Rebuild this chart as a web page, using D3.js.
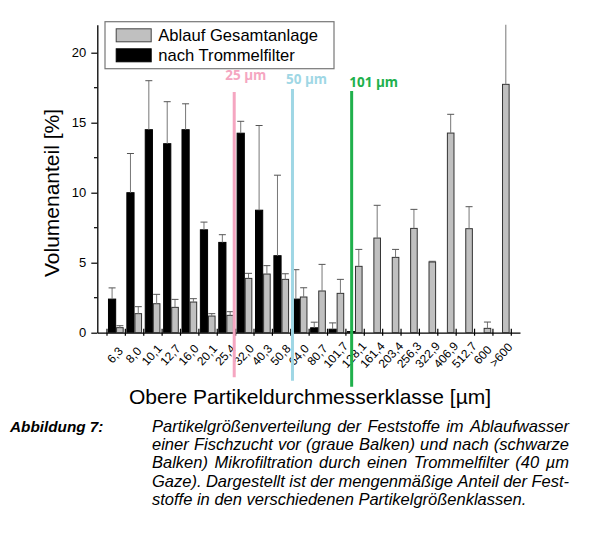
<!DOCTYPE html>
<html lang="de">
<head>
    <meta charset="utf-8">
    <title>Partikelgrößenverteilung</title>
    <script type="text/javascript" src="https://cdn.jsdelivr.net/npm/d3@7"></script>
    <style>
        body { margin: 0; background: #fff; }
        svg { display: block; font-family: "Liberation Sans", Arial, sans-serif; }
    </style>
</head>
<body>
<script type="text/javascript">
    // upper class limits [µm]
    var categories = ["6,3", "8,0", "10,1", "12,7", "16,0", "20,1", "25,4", "32,0", "40,3", "50,8", "64,0",
        "80,7", "101,7", "128,1", "161,4", "203,4", "256,3", "322,9", "406,9", "512,7", "600", ">600"];

    // black bars: nach Trommelfilter
    var nachTrommel = [2.4, 10.0, 14.5, 13.5, 14.5, 7.35, 6.45, 14.25, 8.75, 5.5, 2.4, 0.35, 0.25, 0.08,
        0, 0, 0, 0, 0, 0, 0, 0];
    var nachTrommelErr = [0.8, 2.8, 3.5, 3.0, 1.85, 0.55, 0.55, 0.85, 6.05, 5.75, 2.1, 0.4, 0.45, 0,
        0, 0, 0, 0, 0, 0, 0, 0];

    // grey bars: Ablauf Gesamtanlage
    var ablauf = [0.36, 1.36, 2.07, 1.81, 2.19, 1.19, 1.24, 3.88, 4.19, 3.81, 2.55, 2.98, 2.81, 4.74,
        6.76, 5.38, 7.45, 5.05, 14.26, 7.43, 0.31, 17.74];
    var ablaufErr = [0.14, 0.5, 0.67, 0.57, 0.24, 0.17, 0.26, 0.36, 0.6, 0.4, 0.66, 1.9, 1.0, 1.21,
        2.34, 0.57, 1.36, 0.05, 1.34, 1.57, 0.45, 6.0];

    var yTicks = [0, 5, 10, 15, 20];
    var yMinorTicks = [2.5, 7.5, 12.5, 17.5];

    // hand drawn size markers (position in class units)
    var markerPos = [7.45, 10.62, 13.84];
    var markerLabels = ["25 µm", "50 µm", "101 µm"];
    var markerColors = ["#f5a6c1", "#9fd7e5", "#20b04c"];

    var captionHead = "Abbildung 7:";
    var captionLines = [
        "Partikelgrößenverteilung der Feststoffe im Ablaufwasser",
        "einer Fischzucht vor (graue Balken) und nach (schwarze",
        "Balken) Mikrofiltration durch einen Trommelfilter (40 µm",
        "Gaze). Dargestellt ist der mengenmäßige Anteil der Fest-",
        "stoffe in den verschiedenen Partikelgrößenklassen."
    ];

    //Width and height
    var w = 592;
    var h = 536;

    var svg = d3.select("body")
        .append("svg")
        .attr("width", w)
        .attr("height", h);

    var x = d3.scaleLinear()
        .domain([0, categories.length + 1])
        .range([97.3, 520]);

    var y = d3.scaleLinear()
        .domain([0, 22])
        .range([332.7, 24.7]);

    svg.append("clipPath")
        .attr("id", "plotclip")
        .append("rect")
        .attr("x", x(0))
        .attr("y", y(22))
        .attr("width", x(categories.length + 1) - x(0))
        .attr("height", y(0) - y(22));

    var plot = svg.append("g").attr("clip-path", "url(#plotclip)");

    // bars
    nachTrommel.forEach(function (d, i) {
        if (d <= 0) return;
        plot.append("rect")
            .attr("x", x(i + 1) - 7.2)
            .attr("y", y(d))
            .attr("width", 7.2)
            .attr("height", y(0) - y(d))
            .attr("fill", "#000")
            .attr("stroke", "#000")
            .attr("stroke-width", 1);
    });

    plot.selectAll("rect.ablauf")
        .data(ablauf)
        .enter()
        .append("rect")
        .attr("class", "ablauf")
        .attr("x", (d, i) => x(i + 1) + 0.9)
        .attr("y", d => y(d))
        .attr("width", 6.6)
        .attr("height", d => y(0) - y(d))
        .attr("fill", "#c0c0c0")
        .attr("stroke", "#333")
        .attr("stroke-width", 1);

    // error bars (upper only)
    function errorBars(values, errs, dx) {
        values.forEach(function (d, i) {
            if (!errs[i]) return;
            var cx = x(i + 1) + dx;
            var g = plot.append("g")
                .attr("stroke", "#555")
                .attr("stroke-width", 1)
                .attr("fill", "none");
            g.append("line")
                .attr("x1", cx).attr("x2", cx)
                .attr("y1", y(d)).attr("y2", y(d + errs[i]))
                .attr("stroke", "#777");
            g.append("line")
                .attr("x1", cx - 3.5).attr("x2", cx + 3.5)
                .attr("y1", y(d + errs[i])).attr("y2", y(d + errs[i]));
        });
    }
    errorBars(nachTrommel, nachTrommelErr, -3.6);
    errorBars(ablauf, ablaufErr, 4.2);

    // x axis
    var xAxis = d3.axisBottom(x)
        .tickValues(d3.range(0.5, categories.length + 1, 1))
        .tickFormat("")
        .tickSizeInner(3)
        .tickSizeOuter(0);

    var gx = svg.append("g")
        .attr("transform", "translate(0," + y(0) + ")")
        .call(xAxis);
    gx.select(".domain").attr("stroke", "#000").attr("stroke-width", 1.3);
    gx.selectAll(".tick line").attr("y1", -4).attr("stroke", "#000").attr("stroke-width", 1.2);

    svg.selectAll("text.cat")
        .data(categories)
        .enter()
        .append("text")
        .attr("class", "cat")
        .attr("transform", (d, i) => "translate(" + (x(i + 1) - 0.5) + ",355) rotate(-48)")
        .attr("text-anchor", "middle")
        .attr("dominant-baseline", "central")
        .attr("font-size", "12px")
        .attr("fill", "#000")
        .text(d => d);

    // y axis
    var yAxis = d3.axisLeft(y)
        .tickValues(yTicks)
        .tickSize(6)
        .tickSizeOuter(0)
        .tickPadding(5);

    var gy = svg.append("g")
        .attr("transform", "translate(" + x(0) + ",0)")
        .call(yAxis);
    gy.select(".domain").attr("stroke", "#000").attr("stroke-width", 1.3);
    gy.selectAll(".tick line").attr("stroke", "#000").attr("stroke-width", 1.2);
    gy.selectAll(".tick text")
        .attr("font-size", "13px")
        .attr("font-family", "Liberation Sans, Arial, sans-serif")
        .attr("fill", "#000");

    gy.selectAll("line.minor")
        .data(yMinorTicks)
        .enter()
        .append("line")
        .attr("class", "minor")
        .attr("x1", -3.3)
        .attr("x2", 0)
        .attr("y1", d => y(d))
        .attr("y2", d => y(d))
        .attr("stroke", "#000")
        .attr("stroke-width", 1.2);

    // axis titles
    svg.append("text")
        .attr("transform", "translate(58.5,193) rotate(-90)")
        .attr("text-anchor", "middle")
        .attr("font-size", "21px")
        .text("Volumenanteil [%]");

    svg.append("text")
        .attr("x", 310)
        .attr("y", 404)
        .attr("text-anchor", "middle")
        .attr("font-size", "21px")
        .text("Obere Partikeldurchmesserklasse [µm]");

    // marker lines
    var markerTop = [92, 89, 91];
    var markerBottom = [377.3, 380.7, 386.7];
    var markerTextDx = [-9, -6.5, -2.4];
    var markerTextY = [80, 84, 87];

    svg.selectAll("line.marker")
        .data(markerPos)
        .enter()
        .append("line")
        .attr("class", "marker")
        .attr("x1", d => x(d))
        .attr("x2", d => x(d))
        .attr("y1", (d, i) => markerTop[i])
        .attr("y2", (d, i) => markerBottom[i])
        .attr("stroke", (d, i) => markerColors[i])
        .attr("stroke-width", 3);

    svg.selectAll("text.marker")
        .data(markerPos)
        .enter()
        .append("text")
        .attr("class", "marker")
        .attr("x", (d, i) => x(d) + markerTextDx[i])
        .attr("y", (d, i) => markerTextY[i])
        .attr("font-family", "Open Sans, DejaVu Sans, sans-serif")
        .attr("font-weight", "bold")
        .attr("font-size", "13.5px")
        .attr("fill", (d, i) => markerColors[i])
        .text((d, i) => markerLabels[i]);

    // legend
    var legend = svg.append("g");
    legend.append("rect")
        .attr("x", 105)
        .attr("y", 21.7)
        .attr("width", 229)
        .attr("height", 47)
        .attr("fill", "#fff")
        .attr("stroke", "#777")
        .attr("stroke-width", 1.2);

    var legendNames = ["Ablauf Gesamtanlage", "nach Trommelfilter"];
    var legendFills = ["#c0c0c0", "#000"];
    legendNames.forEach(function (name, i) {
        legend.append("rect")
            .attr("x", 116.2)
            .attr("y", 28.8 + i * 20)
            .attr("width", 35)
            .attr("height", 13)
            .attr("fill", legendFills[i])
            .attr("stroke", i === 0 ? "#444" : "#000")
            .attr("stroke-width", 1);
        legend.append("text")
            .attr("x", 158.3)
            .attr("y", 40.7 + i * 20)
            .attr("font-size", "16.6px")
            .text(name);
    });

    // caption
    svg.append("text")
        .attr("x", 10)
        .attr("y", 431.7)
        .attr("font-size", "15.3px")
        .attr("font-weight", "bold")
        .attr("font-style", "italic")
        .text(captionHead);

    var capLeft = 152, capRight = 569;
    captionLines.forEach(function (line, li) {
        var words = line.split(" ");
        var ly = 431.7 + li * 18.33;
        var nodes = words.map(function (wd) {
            return svg.append("text")
                .attr("y", ly)
                .attr("font-size", "16.5px")
                .attr("font-style", "italic")
                .text(wd);
        });
        var widths = nodes.map(n => n.node().getComputedTextLength());
        var total = d3.sum(widths);
        var gap = 16.5 * 0.278;
        // justify all but the last line
        if (li < captionLines.length - 1 && words.length > 1) {
            gap = (capRight - capLeft - total) / (words.length - 1);
        }
        var cx = capLeft;
        nodes.forEach(function (n, k) {
            n.attr("x", cx);
            cx += widths[k] + gap;
        });
    });
</script>
</body>
</html>
